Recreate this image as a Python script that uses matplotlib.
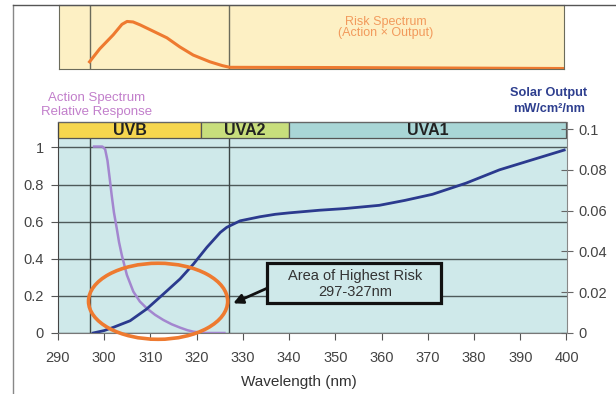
import matplotlib

matplotlib.use("Agg")
import matplotlib.pyplot as plt
from matplotlib.lines import Line2D
from matplotlib.patches import Ellipse, Rectangle

plt.rcParams["font.family"] = ["Liberation Sans", "DejaVu Sans"]

# action spectrum, relative response (left axis)
action_nm = [297.8, 299.6, 300.2, 300.7, 301.2, 301.6, 302.1, 302.7, 303.2, 303.8, 304.9,
             306.3, 307.7, 309.2, 311.0, 312.8, 314.6, 316.4, 318.0, 319.3, 321.0, 322.0, 326.0]
action_val = [1.005, 1.005, 0.99, 0.93, 0.83, 0.745, 0.65, 0.565, 0.49, 0.42, 0.313,
              0.223, 0.17, 0.133, 0.098, 0.07, 0.047, 0.029, 0.015, 0.007, 0.002, 0.0, 0.0]

# solar output, mW/cm2/nm (right axis)
solar_nm = [297.6, 300.0, 302.0, 305.6, 309.2, 312.8, 316.4, 319.3, 322.2, 325.1, 326.5,
            329.4, 333.7, 337.0, 340.0, 346.6, 352.0, 359.5, 365.0, 371.0, 378.3,
            385.5, 392.7, 399.5]
solar_val = [0.0, 0.0012, 0.0028, 0.006, 0.0118, 0.0191, 0.0265, 0.0338, 0.042, 0.0493, 0.0518,
             0.055, 0.057, 0.0582, 0.0589, 0.0602, 0.0610, 0.0626, 0.065, 0.068, 0.0735,
             0.080, 0.085, 0.0897]

# risk spectrum = action x output (top panel, relative units)
risk_nm = [296.8, 299.0, 301.9, 303.8, 304.9, 306.2, 307.7, 310.5, 313.5, 316.3, 319.2,
           322.8, 325.5, 327.1, 350.3, 399.3]
risk_val = [0.15, 0.42, 0.71, 0.93, 0.99, 0.98, 0.92, 0.79, 0.65, 0.46, 0.29,
            0.15, 0.07, 0.035, 0.03, 0.01]

band_names = ["UVB", "UVA2", "UVA1"]
band_edges = [290, 321, 340, 400]
band_colors = ["#f6d64e", "#c8de7c", "#a9d6d6"]
risk_range = [297, 327]

left_ticks = [0, 0.2, 0.4, 0.6, 0.8, 1.0]
left_ticklabels = ["0", "0.2", "0.4", "0.6", "0.8", "1"]
right_ticks = [0, 0.02, 0.04, 0.06, 0.08, 0.1]
right_ticklabels = ["0", "0.02", "0.04", "0.06", "0.08", "0.1"]
x_ticks = list(range(290, 401, 10))

BG = "#cfe9ea"
ORANGE = "#ee7a30"
W, H = 616, 394


def px_box(left, top, right, bottom):
    return [left / W, 1 - bottom / H, (right - left) / W, (bottom - top) / H]


fig = plt.figure(figsize=(W / 100, H / 100), dpi=100)

# ---- main chart
ax = fig.add_axes(px_box(58, 121.7, 566.5, 333))
ax.set_xlim(290, 400)
ax.set_ylim(0, 1.139)
band_lo = 1.05
ax.add_patch(Rectangle((290, 0), 110, band_lo, fc=BG, ec="none", zorder=0))
for name, x0, x1, c in zip(band_names, band_edges[:-1], band_edges[1:], band_colors):
    ax.add_patch(Rectangle((x0, band_lo), x1 - x0, 1.139 - band_lo, fc=c, ec="#555555",
                           lw=0.9, zorder=2, clip_on=False))
    ax.text((x0 + x1) / 2, (band_lo + 1.139) / 2 - 0.003, name, ha="center", va="center",
            fontsize=11.5, fontweight="bold", color="#222222", zorder=3)
ax.set_yticks(left_ticks)
ax.set_yticklabels(left_ticklabels)
ax.set_xticks(x_ticks)
ax.yaxis.grid(True, color="#4e5a5a", lw=1)
ax.vlines(risk_range, 0, band_lo, color="#3c4646", lw=1, zorder=1.6)
ax.tick_params(axis="y", direction="out", length=5, color="#555555", labelsize=10.5,
               labelcolor="#444444", pad=5)
ax.tick_params(axis="x", direction="out", length=5, color="#555555", labelsize=10.5,
               labelcolor="#444444", pad=8)
ax.spines["left"].set_color("#444444")
ax.spines["bottom"].set_color("#777777")
ax.spines["top"].set_color("#666666")
ax.spines["right"].set_visible(False)

ax2 = ax.twinx()
ax2.set_ylim(0, 0.1036)
ax2.set_yticks(right_ticks)
ax2.set_yticklabels(right_ticklabels)
ax2.tick_params(axis="y", direction="inout", length=9, color="#666666", labelsize=10.5,
                labelcolor="#444444", pad=4)
for s in ["left", "top", "bottom"]:
    ax2.spines[s].set_visible(False)
ax2.spines["right"].set_color("#888888")

ax2.plot(action_nm, action_val, color="#a386cf", lw=1.8, transform=ax.transData, zorder=2)
ax2.plot(solar_nm, solar_val, color="#2b3a8e", lw=2, zorder=3)
ax2.add_patch(Ellipse((311.65, 0.171), 30.1, 0.41, transform=ax.transData, fill=False,
                      ec=ORANGE, lw=2.6, clip_on=False, zorder=4))
ax2.add_patch(Rectangle((335.2, 0.16), 37.7, 0.216, transform=ax.transData, fc=BG,
                        ec="#111111", lw=2.3, zorder=5))
ax2.text(354.3, 0.264, "Area of Highest Risk\n297-327nm", transform=ax.transData,
         ha="center", va="center", fontsize=10.5, color="#333333", linespacing=1.2, zorder=6)
ax2.annotate("", xy=(327.9, 0.16), xytext=(335.2, 0.241), xycoords=ax.transData,
             textcoords=ax.transData,
             arrowprops=dict(arrowstyle="-|>", color="#111111", lw=2, mutation_scale=14,
                             shrinkA=0, shrinkB=0), zorder=6)

# ---- risk spectrum panel
axt = fig.add_axes(px_box(59, 5, 564, 69))
axt.set_xlim(290.2, 399.3)
axt.set_ylim(0, 1.333)
axt.set_facecolor("#fdf0c4")
axt.vlines(risk_range, 0, 1.333, color="#6b6b5b", lw=1)
axt.plot(risk_nm, risk_val, color=ORANGE, lw=2.2)
axt.set_xticks([])
axt.set_yticks([])
for s in axt.spines.values():
    s.set_color("#6b6b5b")

# ---- labels
fig.text(386 / W, 1 - 27.5 / H, "Risk Spectrum\n(Action × Output)", ha="center", va="center",
         fontsize=9, color="#f29a5c", linespacing=0.95)
fig.text(96.5 / W, 1 - 104.7 / H, "Action Spectrum\nRelative Response", ha="center",
         va="center", fontsize=9.5, color="#c27fcb", linespacing=1.2)
fig.text(549 / W, 1 - 101 / H, "Solar Output\nmW/cm²/nm", ha="center", va="center",
         fontsize=9.2, fontweight="bold", color="#2e3f8f", linespacing=1.35)
fig.text(299 / W, 12.3 / H, "Wavelength (nm)", ha="center", va="center", fontsize=11,
         color="#333333")

# outer frame
fig.add_artist(Line2D([12.5 / W, 12.5 / W], [0, 1 - 5 / H], color="#888888", lw=1))
fig.add_artist(Line2D([12.5 / W, 1], [1 - 5 / H, 1 - 5 / H], color="#555555", lw=1))

fig.savefig("out.png", dpi=100)
